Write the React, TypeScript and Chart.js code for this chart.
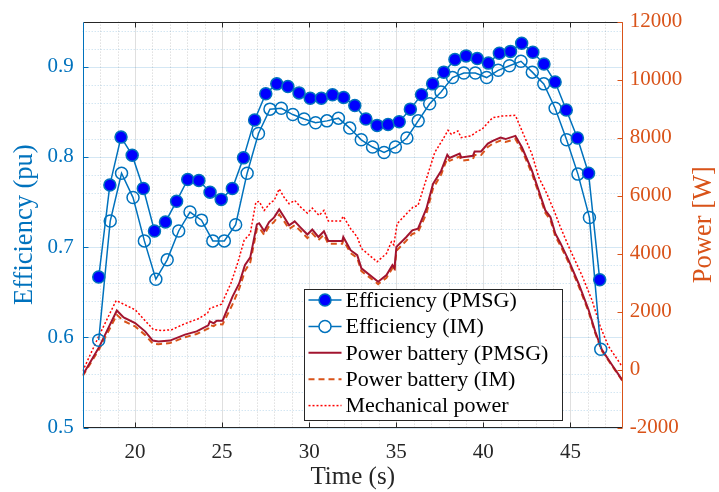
import React, { useEffect, useRef } from "react";
import { Chart, registerables } from "chart.js";

Chart.register(...registerables);

// ---------- data ----------
const xTickValues = [20, 25, 30, 35, 40, 45];
const effTickValues = [0.5, 0.6, 0.7, 0.8, 0.9];
const powerTickValues = [-2000, 0, 2000, 4000, 6000, 8000, 10000, 12000];

const pmsgTime = [17.92, 18.56, 19.2, 19.84, 20.48, 21.12, 21.75, 22.39, 23.03, 23.67, 24.31, 24.95, 25.59, 26.23, 26.87, 27.51, 28.14, 28.78, 29.42, 30.06, 30.7, 31.34, 31.98, 32.62, 33.26, 33.9, 34.53, 35.17, 35.81, 36.45, 37.09, 37.73, 38.37, 39.01, 39.65, 40.29, 40.92, 41.56, 42.2, 42.84, 43.48, 44.12, 44.76, 45.4, 46.04, 46.68];
const pmsgEff = [0.667, 0.769, 0.822, 0.802, 0.765, 0.718, 0.728, 0.751, 0.775, 0.774, 0.761, 0.753, 0.765, 0.799, 0.841, 0.87, 0.881, 0.878, 0.871, 0.865, 0.865, 0.869, 0.866, 0.857, 0.842, 0.835, 0.836, 0.839, 0.853, 0.869, 0.881, 0.894, 0.908, 0.912, 0.909, 0.904, 0.915, 0.917, 0.926, 0.916, 0.903, 0.883, 0.852, 0.821, 0.782, 0.664];

const imTime = [17.92, 18.58, 19.23, 19.89, 20.54, 21.2, 21.85, 22.51, 23.16, 23.82, 24.47, 25.13, 25.78, 26.44, 27.09, 27.75, 28.4, 29.06, 29.71, 30.37, 31.02, 31.68, 32.33, 32.99, 33.64, 34.3, 34.95, 35.61, 36.26, 36.92, 37.57, 38.23, 38.88, 39.54, 40.19, 40.85, 41.5, 42.16, 42.81, 43.47, 44.12, 44.78, 45.43, 46.09, 46.74];
const imEff = [0.597, 0.729, 0.782, 0.755, 0.707, 0.6645, 0.686, 0.718, 0.739, 0.73, 0.707, 0.707, 0.725, 0.782, 0.826, 0.853, 0.854, 0.847, 0.842, 0.838, 0.84, 0.843, 0.832, 0.819, 0.811, 0.805, 0.811, 0.821, 0.84, 0.859, 0.872, 0.888, 0.893, 0.893, 0.888, 0.896, 0.901, 0.906, 0.894, 0.881, 0.854, 0.819, 0.781, 0.733, 0.587];

const batteryTime = [17.0, 17.92, 18.96, 19.35, 20.01, 20.58, 21.02, 21.35, 22.01, 22.87, 23.54, 24.21, 24.3, 24.52, 24.69, 25.03, 25.6, 25.99, 26.31, 26.62, 27.0, 27.13, 27.42, 27.7, 27.99, 28.28, 28.56, 28.85, 29.17, 29.51, 29.9, 30.18, 30.53, 30.85, 31.1, 31.9, 31.96, 32.38, 32.76, 33.0, 33.96, 34.44, 34.78, 34.9, 35.01, 35.58, 35.92, 36.25, 36.73, 37.11, 37.58, 37.93, 38.06, 38.64, 38.73, 39.4, 39.5, 39.87, 40.26, 40.54, 40.98, 41.27, 41.84, 42.22, 42.79, 43.18, 43.56, 43.85, 44.13, 44.42, 44.89, 45.46, 46.04, 46.42, 46.8, 47.37, 48.0];
const batteryPmsg = [-180, 753, 2041, 1802, 1610, 1322, 1003, 969, 1003, 1209, 1322, 1528, 1665, 1600, 1688, 1688, 2521, 2980, 3606, 3870, 5011, 5050, 4781, 5090, 5250, 5525, 5261, 4977, 5114, 4898, 4658, 4829, 4576, 4771, 4439, 4439, 4576, 4120, 3949, 3493, 3034, 3264, 3606, 3500, 4233, 4576, 4805, 4863, 5548, 6405, 6860, 7408, 7300, 7453, 7316, 7374, 7521, 7521, 7795, 7888, 8001, 7950, 8059, 7658, 6860, 6175, 5490, 5261, 4692, 4370, 3778, 2980, 2065, 1322, 695, 181, -380];
const batteryIm = [-220, 680, 1890, 1680, 1490, 1200, 900, 880, 920, 1120, 1230, 1420, 1540, 1500, 1580, 1560, 2250, 2800, 3400, 3700, 4850, 4900, 4650, 4950, 5100, 5350, 5120, 4850, 4980, 4780, 4540, 4700, 4470, 4650, 4340, 4340, 4460, 4020, 3850, 3400, 2950, 3170, 3500, 3380, 4100, 4450, 4680, 4740, 5380, 6250, 6730, 7290, 7200, 7350, 7200, 7260, 7400, 7400, 7680, 7790, 7900, 7850, 7950, 7560, 6760, 6080, 5400, 5170, 4600, 4280, 3700, 2900, 2000, 1270, 650, 150, -400];

const mechTime = [17.0, 17.92, 18.92, 20.01, 21.06, 21.54, 22.11, 22.87, 23.64, 24.17, 24.3, 24.97, 25.51, 25.89, 26.27, 26.62, 26.94, 27.13, 27.42, 27.8, 27.99, 28.28, 28.56, 28.85, 29.17, 29.51, 29.9, 30.18, 30.57, 30.85, 31.1, 31.8, 31.96, 32.38, 32.76, 33.0, 33.9, 34.44, 34.72, 34.86, 35.05, 35.68, 35.96, 36.25, 36.73, 37.21, 37.68, 37.97, 38.16, 38.54, 38.73, 39.3, 39.68, 39.91, 40.35, 40.54, 41.07, 41.84, 42.22, 42.79, 43.18, 43.65, 44.13, 44.42, 44.99, 45.65, 46.23, 46.71, 47.18, 47.95];
const mechPower = [-48, 1151, 2384, 2065, 1380, 1346, 1380, 1586, 1757, 1952, 2110, 2260, 2980, 3665, 4463, 4692, 5775, 5800, 5490, 5775, 5830, 6234, 5946, 5720, 5833, 5603, 5398, 5569, 5319, 5490, 5124, 5124, 5285, 4863, 4576, 4179, 3720, 4007, 4405, 4300, 5035, 5432, 5603, 5662, 6576, 7487, 7946, 8254, 8117, 8230, 8001, 8059, 8230, 8280, 8573, 8686, 8744, 8768, 8230, 7432, 6631, 6062, 5377, 4918, 4120, 3264, 2408, 1493, 808, 123];

const legendLabels = ["Efficiency (PMSG)", "Efficiency (IM)", "Power battery (PMSG)", "Power battery (IM)", "Mechanical power"];

// ---------- styles ----------
const BLUE = "#0072BD";
const ORANGE = "#D95319";
const DARKRED = "#A2142F";
const RED = "#FF0000";
const FILL_BLUE = "#0000FF";
const AXIS_GRAY = "#262626";
const FONT = "'Liberation Serif', 'Times New Roman', serif";

const pts = (xs: number[], ys: number[]) => xs.map((x, i) => ({ x, y: ys[i] }));

const matlabPlugin = {
  id: "matlabLook",
  beforeDatasetsDraw(chart: any) {
    const { ctx, chartArea: a, scales } = chart;
    const xs = scales.x, ys = scales.y;
    ctx.save();
    ctx.lineWidth = 1;
    // minor grid
    ctx.setLineDash([1, 2]);
    ctx.strokeStyle = "rgba(38,38,38,0.22)";
    for (let v = 18; v <= 47; v++) {
      if (v % 5 === 0) continue;
      const px = Math.round(xs.getPixelForValue(v)) + 0.5;
      ctx.beginPath(); ctx.moveTo(px, a.top); ctx.lineTo(px, a.bottom); ctx.stroke();
    }
    ctx.strokeStyle = "rgba(0,114,189,0.25)";
    for (let k = 26; k <= 47; k++) {
      if (k % 5 === 0) continue;
      const py = Math.round(ys.getPixelForValue(k * 0.02)) + 0.5;
      ctx.beginPath(); ctx.moveTo(a.left, py); ctx.lineTo(a.right, py); ctx.stroke();
    }
    // major grid
    ctx.setLineDash([]);
    ctx.strokeStyle = "rgba(38,38,38,0.15)";
    xTickValues.forEach((v) => {
      const px = Math.round(xs.getPixelForValue(v)) + 0.5;
      ctx.beginPath(); ctx.moveTo(px, a.top); ctx.lineTo(px, a.bottom); ctx.stroke();
    });
    ctx.strokeStyle = "rgba(0,114,189,0.17)";
    effTickValues.forEach((v) => {
      const py = Math.round(ys.getPixelForValue(v)) + 0.5;
      ctx.beginPath(); ctx.moveTo(a.left, py); ctx.lineTo(a.right, py); ctx.stroke();
    });
    ctx.restore();
  },
  afterDatasetsDraw(chart: any) {
    const { ctx, chartArea: a, scales } = chart;
    const xs = scales.x, ys = scales.y, y1 = scales.y1;
    const L = Math.round(a.left) + 0.5, R = Math.round(a.right) - 0.5;
    const T = Math.round(a.top) + 0.5, B = Math.round(a.bottom) - 0.5;
    const tl = 5;
    ctx.save();
    ctx.lineWidth = 1;
    ctx.setLineDash([]);
    // box
    ctx.strokeStyle = AXIS_GRAY;
    ctx.beginPath(); ctx.moveTo(L, T); ctx.lineTo(R, T); ctx.stroke();
    ctx.beginPath(); ctx.moveTo(L, B); ctx.lineTo(R, B); ctx.stroke();
    xTickValues.forEach((v) => {
      const px = Math.round(xs.getPixelForValue(v)) + 0.5;
      ctx.beginPath(); ctx.moveTo(px, B); ctx.lineTo(px, B - tl); ctx.stroke();
      ctx.beginPath(); ctx.moveTo(px, T); ctx.lineTo(px, T + tl); ctx.stroke();
    });
    ctx.strokeStyle = BLUE;
    ctx.beginPath(); ctx.moveTo(L, T); ctx.lineTo(L, B); ctx.stroke();
    effTickValues.forEach((v) => {
      const py = Math.round(ys.getPixelForValue(v)) + 0.5;
      ctx.beginPath(); ctx.moveTo(L, py); ctx.lineTo(L + tl, py); ctx.stroke();
    });
    ctx.strokeStyle = ORANGE;
    ctx.beginPath(); ctx.moveTo(R, T); ctx.lineTo(R, B); ctx.stroke();
    powerTickValues.forEach((v) => {
      const py = Math.round(y1.getPixelForValue(v)) + 0.5;
      ctx.beginPath(); ctx.moveTo(R, py); ctx.lineTo(R - tl, py); ctx.stroke();
    });

    // legend
    const lx = 304.5, ly = 289.5, lw = 258, lh = 131;
    ctx.fillStyle = "#ffffff";
    ctx.fillRect(lx, ly, lw, lh);
    ctx.strokeStyle = AXIS_GRAY;
    ctx.strokeRect(lx, ly, lw, lh);
    const rowH = 26.4;
    const firstRow = ly + 10.5;
    ctx.font = `22px ${FONT}`;
    ctx.textBaseline = "middle";
    ctx.textAlign = "left";
    legendLabels.forEach((label, i) => {
      const cy = firstRow + rowH * i;
      const x0 = lx + 4, x1 = lx + 37;
      ctx.save();
      if (i === 0 || i === 1) {
        ctx.strokeStyle = BLUE; ctx.lineWidth = 1.5; ctx.setLineDash([]);
      } else if (i === 2) {
        ctx.strokeStyle = DARKRED; ctx.lineWidth = 2; ctx.setLineDash([]);
      } else if (i === 3) {
        ctx.strokeStyle = ORANGE; ctx.lineWidth = 2; ctx.setLineDash([6, 4]);
      } else {
        ctx.strokeStyle = RED; ctx.lineWidth = 1.5; ctx.setLineDash([2, 2]);
      }
      ctx.beginPath(); ctx.moveTo(x0, cy); ctx.lineTo(x1, cy); ctx.stroke();
      if (i < 2) {
        ctx.setLineDash([]);
        ctx.beginPath(); ctx.arc((x0 + x1) / 2, cy, 6, 0, Math.PI * 2);
        if (i === 0) { ctx.fillStyle = FILL_BLUE; ctx.fill(); }
        else { ctx.fillStyle = "#ffffff"; ctx.fill(); }
        ctx.stroke();
      }
      ctx.restore();
      ctx.fillStyle = "#000000";
      ctx.fillText(label, lx + 41, cy + 1);
    });
    ctx.restore();
  },
  afterDraw(chart: any) {
    const { ctx, chartArea: a } = chart;
    ctx.save();
    ctx.font = `25px ${FONT}`;
    ctx.textAlign = "center";
    ctx.textBaseline = "middle";
    ctx.fillStyle = AXIS_GRAY;
    ctx.fillText("Time (s)", (a.left + a.right) / 2, 477);
    const cy = (a.top + a.bottom) / 2;
    ctx.font = `26.5px ${FONT}`;
    ctx.save();
    ctx.translate(25.5, cy);
    ctx.rotate(-Math.PI / 2);
    ctx.fillStyle = BLUE;
    ctx.fillText("Efficiency (pu)", 0, 0);
    ctx.restore();
    ctx.save();
    ctx.translate(704.5, cy);
    ctx.rotate(-Math.PI / 2);
    ctx.fillStyle = ORANGE;
    ctx.fillText("Power [W]", 0, 0);
    ctx.restore();
    ctx.restore();
  },
};

export default function App() {
  const ref = useRef<HTMLCanvasElement | null>(null);
  useEffect(() => {
    if (!ref.current) return;
    const tickFont = { family: FONT, size: 21 };
    const chart = new Chart(ref.current, {
      type: "line",
      data: {
        datasets: [
          {
            label: legendLabels[0],
            data: pts(pmsgTime, pmsgEff),
            yAxisID: "y",
            borderColor: BLUE,
            borderWidth: 1.5,
            pointRadius: 6,
            pointBackgroundColor: FILL_BLUE,
            pointBorderColor: BLUE,
            pointBorderWidth: 1.5,
            tension: 0,
          },
          {
            label: legendLabels[1],
            data: pts(imTime, imEff),
            yAxisID: "y",
            borderColor: BLUE,
            borderWidth: 1.5,
            pointRadius: 6,
            pointBackgroundColor: "rgba(0,0,0,0)",
            pointBorderColor: BLUE,
            pointBorderWidth: 1.5,
            tension: 0,
          },
          {
            label: legendLabels[2],
            data: pts(batteryTime, batteryPmsg),
            yAxisID: "y1",
            borderColor: DARKRED,
            borderWidth: 2,
            pointRadius: 0,
            tension: 0,
          },
          {
            label: legendLabels[3],
            data: pts(batteryTime, batteryIm),
            yAxisID: "y1",
            borderColor: ORANGE,
            borderWidth: 2,
            borderDash: [6, 4],
            pointRadius: 0,
            tension: 0,
          },
          {
            label: legendLabels[4],
            data: pts(mechTime, mechPower),
            yAxisID: "y1",
            borderColor: RED,
            borderWidth: 1.5,
            borderDash: [2, 2],
            pointRadius: 0,
            tension: 0,
          },
        ],
      },
      options: {
        responsive: false,
        animation: false,
        devicePixelRatio: 1,
        layout: { padding: { top: 19, left: 0, right: 0, bottom: 0 } },
        plugins: { legend: { display: false }, tooltip: { enabled: false } },
        scales: {
          x: {
            type: "linear",
            min: 17,
            max: 48,
            afterBuildTicks: (s: any) => { s.ticks = xTickValues.map((v) => ({ value: v })); },
            afterFit: (s: any) => { s.height = 64.3; },
            ticks: { font: tickFont, color: AXIS_GRAY, padding: 12, maxRotation: 0, autoSkip: false, callback: (v: any) => String(v) },
            grid: { display: false, drawTicks: false },
            border: { display: false },
          },
          y: {
            type: "linear",
            position: "left",
            min: 0.5,
            max: 0.95,
            afterBuildTicks: (s: any) => { s.ticks = effTickValues.map((v) => ({ value: v })); },
            afterFit: (s: any) => { s.width = 82.7; },
            ticks: { font: tickFont, color: BLUE, padding: 9, autoSkip: false, callback: (v: any) => Number(v).toFixed(1) },
            grid: { display: false, drawTicks: false },
            border: { display: false },
          },
          y1: {
            type: "linear",
            position: "right",
            min: -2000,
            max: 12000,
            afterBuildTicks: (s: any) => { s.ticks = powerTickValues.map((v) => ({ value: v })); },
            afterFit: (s: any) => { s.width = 96.3; },
            ticks: { font: tickFont, color: ORANGE, padding: 7, autoSkip: false, callback: (v: any) => String(v) },
            grid: { display: false, drawTicks: false },
            border: { display: false },
          },
        },
      },
      plugins: [matlabPlugin],
    });
    return () => chart.destroy();
  }, []);
  return (
    <div style={{ position: "fixed", left: 0, top: 0, width: 719, height: 492, background: "#ffffff" }}>
      <canvas ref={ref} width={719} height={492} style={{ display: "block" }} />
    </div>
  );
}
